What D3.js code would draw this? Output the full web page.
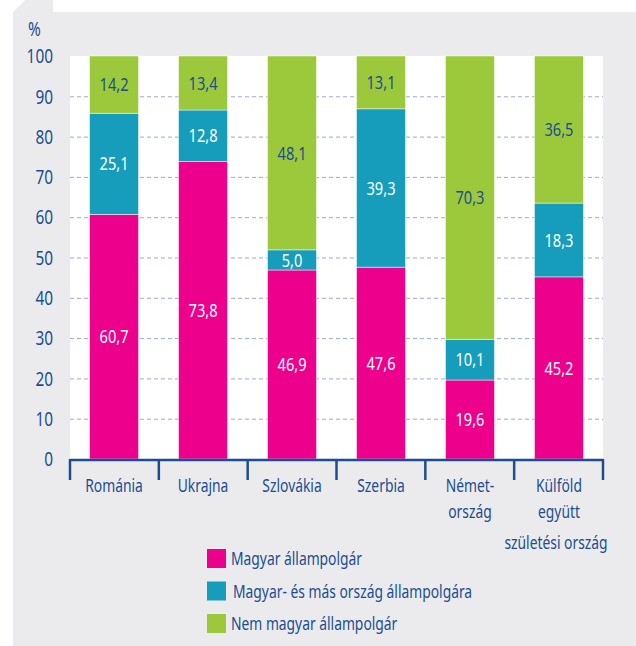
<!DOCTYPE html>
<html>
<head>
<meta charset="utf-8">
<script src="https://cdn.jsdelivr.net/npm/d3@7"></script>
<style>
  body { margin: 0; background: #fff; }
  svg text { font-family: "Noto Sans", "Open Sans", sans-serif; }
</style>
</head>
<body>
<div id="chart"></div>
<script>
// categories (birth country)
const countries = [["Románia"], ["Ukrajna"], ["Szlovákia"], ["Szerbia"], ["Német-", "ország"], ["Külföld", "együtt"]];
const seriesNames = ["Magyar állampolgár", "Magyar- és más ország állampolgára", "Nem magyar állampolgár"];
const magyar = [60.7, 73.8, 46.9, 47.6, 19.6, 45.2];
const kettos = [25.1, 12.8, 5.0, 39.3, 10.1, 18.3];
const nemMagyar = [14.2, 13.4, 48.1, 13.1, 70.3, 36.5];
const yTicks = [0, 10, 20, 30, 40, 50, 60, 70, 80, 90, 100];

const colors = ["#ec008c", "#159dbb", "#9bc93b"];
const labelColors = ["#fff", "#fff", "#1c4e8f"];
const blue = "#1c4e8f";
const squeeze = 0.77; // condensed look

const width = 636, height = 646;
const margin = { top: 56, left: 70, right: 33, bottom: 187 };
const plotW = width - margin.left - margin.right;
const plotH = height - margin.top - margin.bottom;

const svg = d3.select("#chart").append("svg")
  .attr("width", width).attr("height", height);

const tr = (px, py) => `translate(${px},${py}) scale(${squeeze},1)`;

// grey panel with the small tab at top left
svg.append("path")
  .attr("d", "M13,12 L25,0 L53,0 L53,12 L636,12 L636,646 L13,646 Z")
  .attr("fill", "#ebebee");

const g = svg.append("g").attr("transform", `translate(${margin.left},${margin.top})`);

const x = d3.scaleBand().domain(d3.range(countries.length)).range([0, plotW]).paddingInner(0.45).paddingOuter(0.22);
const y = d3.scaleLinear().domain([0, 100]).range([plotH, 0]);

g.append("rect").attr("width", plotW).attr("height", plotH).attr("fill", "#fff");

// dashed grid
g.selectAll("line.grid").data(yTicks.filter(t => t > 0 && t < 100)).enter()
  .append("line").attr("class", "grid")
  .attr("x1", 0).attr("x2", plotW)
  .attr("y1", d => y(d) + 0.5).attr("y2", d => y(d) + 0.5)
  .attr("stroke", "#9aaad6").attr("stroke-width", 1).attr("stroke-dasharray", "4,3");

// stack
const rows = countries.map((c, i) => ({ i: i, s0: magyar[i], s1: kettos[i], s2: nemMagyar[i] }));
const stacked = d3.stack().keys(["s0", "s1", "s2"])(rows);

const layers = g.selectAll("g.layer").data(stacked).enter().append("g").attr("class", "layer");
layers.selectAll("rect").data((d, k) => d.map(p => ({ p: p, k: k }))).enter()
  .append("rect")
  .attr("x", d => x(d.p.data.i))
  .attr("width", x.bandwidth())
  .attr("y", d => y(d.p[1]))
  .attr("height", d => y(d.p[0]) - y(d.p[1]))
  .attr("fill", d => colors[d.k])
  .attr("stroke", "rgba(255,255,255,0.6)").attr("stroke-width", 0.8);

layers.selectAll("text").data((d, k) => d.map(p => ({ p: p, k: k }))).enter()
  .append("text")
  .attr("transform", d => tr(x(d.p.data.i) + x.bandwidth() / 2, y((d.p[0] + d.p[1]) / 2)))
  .attr("dy", "0.35em")
  .attr("text-anchor", "middle")
  .attr("font-size", 19)
  .attr("fill", d => labelColors[d.k])
  .text(d => (d.p[1] - d.p[0]).toFixed(1).replace(".", ","));

// y axis labels
g.selectAll("text.ytick").data(yTicks).enter()
  .append("text").attr("class", "ytick")
  .attr("transform", d => tr(-17, y(d)))
  .attr("dy", "0.36em")
  .attr("text-anchor", "end").attr("font-size", 20).attr("fill", blue)
  .text(d => d);

svg.append("text").attr("transform", tr(28, 36)).attr("font-size", 20).attr("fill", blue).text("%");

// x axis: baseline + separators
const sepX = d3.range(countries.length + 1).map(i => i * plotW / countries.length);
g.append("line").attr("x1", 0).attr("x2", plotW).attr("y1", plotH + 1).attr("y2", plotH + 1)
  .attr("stroke", blue).attr("stroke-width", 2.5);
g.selectAll("line.sep").data(sepX).enter().append("line").attr("class", "sep")
  .attr("x1", d => d).attr("x2", d => d).attr("y1", plotH).attr("y2", plotH + 21)
  .attr("stroke", blue).attr("stroke-width", 2.5);

const xl = g.selectAll("text.xl").data(countries).enter().append("text").attr("class", "xl")
  .attr("text-anchor", "middle").attr("font-size", 18).attr("fill", blue)
  .attr("transform", (d, i) => tr(x(i) + x.bandwidth() / 2, plotH + 33));
xl.selectAll("tspan").data(d => d).enter().append("tspan")
  .attr("x", 0)
  .attr("dy", (d, j) => j === 0 ? 0 : 26)
  .text(d => d);

svg.append("text").attr("transform", tr(556, 549)).attr("text-anchor", "middle")
  .attr("font-size", 18).attr("fill", blue).text("születési ország");

// legend
const legend = svg.selectAll("g.leg").data(seriesNames).enter().append("g").attr("class", "leg")
  .attr("transform", (d, i) => `translate(207,${549 + i * 32.5})`);
legend.append("rect").attr("width", 19).attr("height", 19).attr("fill", (d, i) => colors[i]);
legend.append("text").attr("transform", (d, i) => tr(i === 1 ? 26 : 24, 10)).attr("dy", "0.35em")
  .attr("font-size", 18).attr("fill", blue).text(d => d);
</script>
</body>
</html>
